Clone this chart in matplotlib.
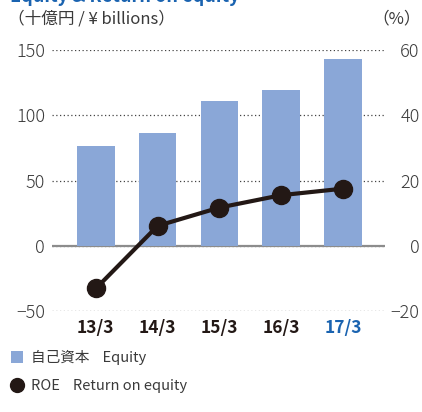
import matplotlib
matplotlib.use("Agg")
import matplotlib.pyplot as plt
from matplotlib.patches import Patch
from matplotlib.lines import Line2D

plt.rcParams['font.family'] = ['Noto Sans CJK JP', 'DejaVu Sans']

# data
periods = ["13/3", "14/3", "15/3", "16/3", "17/3"]
equity = [76.4, 86.4, 110.9, 119.3, 143.0]   # 十億円
roe = [-13.1, 6.1, 11.7, 15.5, 17.5]          # %
left_ticks = [-50, 0, 50, 100, 150]
right_ticks = [-20, 0, 20, 40, 60]

bar_color = "#8aa7d7"
dark = "#231815"
blue = "#1a63b0"
text_col = "#3a3a3a"

fig = plt.figure(figsize=(4.22, 4.12), dpi=100)
ax = fig.add_axes([52 / 422, 1 - 311 / 412, (385 - 52) / 422, (311 - 50) / 412])

x = list(range(len(periods)))
ax.bar(x, equity, width=0.61, color=bar_color, zorder=2)
ax.set_xlim(-0.71, 4.68)
ax.set_ylim(-50, 150)
ax.set_yticks(left_ticks)
ax.yaxis.grid(True, linestyle=(0, (1, 2)), color="#444444", linewidth=0.9)
ax.set_axisbelow(True)
ax.axhline(0, color="#8c8c8c", linewidth=1.6, zorder=1.5)
for s in ax.spines.values():
    s.set_visible(False)
ax.tick_params(axis="y", length=0, pad=5, labelsize=13, labelcolor=text_col)
ax.set_xticks(x)
ax.set_xticklabels(periods, fontsize=12.5, fontweight="bold", color=dark)
ax.tick_params(axis="x", length=0, pad=6)
ax.get_xticklabels()[-1].set_color(blue)
for lbl in ax.get_yticklabels():
    lbl.set_fontweight("light")

ax2 = ax.twinx()
ax2.plot(x, roe, color=dark, linewidth=3, marker="o", markersize=13, zorder=3)
ax2.set_ylim(-20, 60)
ax2.set_yticks(right_ticks)
for s in ax2.spines.values():
    s.set_visible(False)
ax2.tick_params(axis="y", length=0, pad=25, labelsize=13, labelcolor=text_col)
for lbl in ax2.get_yticklabels():
    lbl.set_horizontalalignment("right")
    lbl.set_fontweight("light")

# title (cut off at top in the original) and unit labels
fig.text(10 / 422, 1 - 1.5 / 412, "Equity & Return on equity", fontsize=13,
         fontweight="bold", color=blue, va="baseline", ha="left")
fig.text(8 / 422, 1 - 19 / 412, "（十億円 / ¥ billions）", fontsize=12,
         color=text_col, va="center", ha="left")
fig.text(421 / 422, 1 - 19 / 412, "（%）", fontsize=12,
         color=text_col, va="center", ha="right")

handles = [Patch(facecolor=bar_color, edgecolor="none"),
           Line2D([], [], color=dark, marker="o", linestyle="none", markersize=10)]
labels = ["自己資本    Equity", "ROE    Return on equity"]
leg = fig.legend(handles, labels, loc="upper left",
                 bbox_to_anchor=(8 / 422, 1 - 347 / 412),
                 frameon=False, fontsize=10.5, handlelength=0.8, handleheight=0.8,
                 handletextpad=0.6, labelspacing=0.95, borderaxespad=0.0,
                 borderpad=0.2)
for t in leg.get_texts():
    t.set_color(text_col)

fig.savefig("out.png", dpi=100)
